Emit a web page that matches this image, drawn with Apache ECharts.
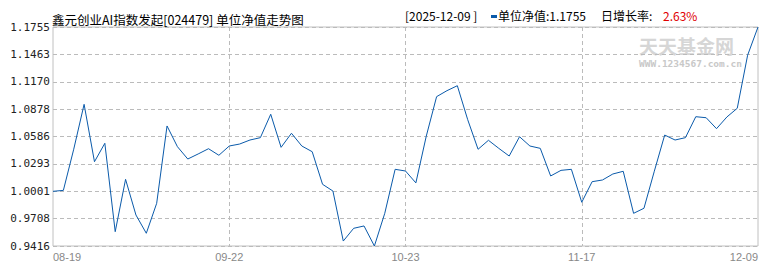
<!DOCTYPE html>
<html><head><meta charset="utf-8">
<script src="https://cdn.jsdelivr.net/npm/echarts@6/dist/echarts.min.js"></script>
<style>html,body{margin:0;padding:0;background:#fff}#c{width:770px;height:270px}</style>
</head><body><div id="c"></div>
<script>
const dates = [
  '08-19','08-22','08-26','08-27','08-28','08-29','09-01','09-02','09-03','09-04','09-05','09-08','09-10','09-12','09-15','09-17','09-19','09-22',
  '09-23','09-24','09-25','09-26','09-29','09-30','10-09','10-10','10-13','10-14','10-15','10-16','10-17','10-20','10-21','10-22','10-23',
  '10-24','10-27','10-28','10-29','10-30','10-31','11-03','11-04','11-05','11-06','11-07','11-10','11-11','11-12','11-13','11-14','11-17',
  '11-18','11-19','11-20','11-21','11-24','11-25','11-26','11-27','11-28','12-01','12-02','12-03','12-04','12-05','12-06','12-08','12-09'
];
const navValues = [
  1.0000,1.0010,1.0450,1.0929,1.0316,1.0513,0.9569,1.0128,0.9747,0.9552,0.9872,1.0698,1.0477,1.0345,1.0399,1.0455,1.0385,1.0484,
  1.0505,1.0548,1.0573,1.0823,1.0470,1.0620,1.0484,1.0423,1.0075,1.0003,0.9469,0.9605,0.9630,0.9416,0.9765,1.0235,1.0217,
  1.0090,1.0588,1.1011,1.1075,1.1128,1.0765,1.0449,1.0545,1.0459,1.0377,1.0583,1.0484,1.0459,1.0164,1.0224,1.0235,0.9883,
  1.0103,1.0121,1.0185,1.0214,0.9765,0.9819,1.0215,1.0601,1.0548,1.0573,1.0797,1.0786,1.0669,1.0794,1.0887,1.1454,1.1755
];
const labelIndices = [0, 17, 34, 51, 68];
const yMin = 0.9416, yMax = 1.1755, ySteps = 8;
const titleText = '鑫元创业AI指数发起[024479] 单位净值走势图';
const infoDate = '[2025-12-09 ]';
const infoNav = '单位净值:1.1755';
const infoRateLabel = '日增长率:';
const infoRate = '2.63%';
const wmMain = '天天基金网';
const wmSub = 'WWW.1234567.com.cn';

const LINE = '#0a5aaa';
const CJK = '"Noto Sans CJK SC"';
const chart = echarts.init(document.getElementById('c'), null, {renderer: 'svg'});
const lastIdx = dates.length - 1;
chart.setOption({
  animation: false,
  grid: {left: 53, right: 12, top: 27, bottom: 24, show: true, borderColor: '#c0c0c0', borderWidth: 1},
  xAxis: {
    type: 'category', boundaryGap: false, data: dates,
    axisLine: {show: false}, axisTick: {show: false},
    axisLabel: {
      interval: (i) => labelIndices.includes(i),
      color: '#888', fontFamily: 'Liberation Sans', fontSize: 11, margin: 5,
      alignMinLabel: 'left', alignMaxLabel: 'right'
    },
    splitLine: {show: true, interval: (i) => labelIndices.includes(i) && i !== 0 && i !== lastIdx,
      lineStyle: {color: '#bbb', type: [4, 3]}}
  },
  yAxis: {
    type: 'value', min: yMin, max: yMax, interval: (yMax - yMin) / ySteps,
    axisLine: {show: false}, axisTick: {show: false},
    axisLabel: {formatter: (v) => v.toFixed(4), color: '#222', fontFamily: 'DejaVu Sans Mono', fontSize: 11, margin: 3},
    splitLine: {lineStyle: {color: '#bbb', type: [4, 3]}}
  },
  graphic: [
    {type: 'text', z: 0, style: {x: 639, y: 45.5, text: wmMain, verticalAlign: 'middle', lineHeight: 20, font: 'bold 19px ' + CJK, fill: '#d6d6d6'}},
    {type: 'text', z: 0, style: {x: 639, y: 63, text: wmSub, verticalAlign: 'middle', lineHeight: 9, font: 'bold 9.5px "DejaVu Sans Mono"', fill: '#c8c8c8'}},
    {type: 'text', style: {x: 52, y: 19, text: titleText, verticalAlign: 'middle', font: '12.5px ' + CJK, fill: '#000'}},
    {type: 'text', style: {x: 405, y: 15.5, text: infoDate, verticalAlign: 'middle', font: '12px ' + CJK, fill: '#000'}},
    {type: 'rect', shape: {x: 491, y: 15, width: 6, height: 3}, style: {fill: LINE}},
    {type: 'text', style: {x: 498, y: 15.5, text: infoNav, verticalAlign: 'middle', font: '12px ' + CJK, fill: '#000'}},
    {type: 'text', style: {x: 601, y: 15.5, text: infoRateLabel, verticalAlign: 'middle', font: '12px ' + CJK, fill: '#000'}},
    {type: 'text', style: {x: 663, y: 15.5, text: infoRate, verticalAlign: 'middle', font: '12px ' + CJK, fill: '#e00000'}}
  ],
  series: [{type: 'line', data: navValues, symbol: 'none', z: 5, lineStyle: {color: LINE, width: 1}}]
});
</script></body></html>
